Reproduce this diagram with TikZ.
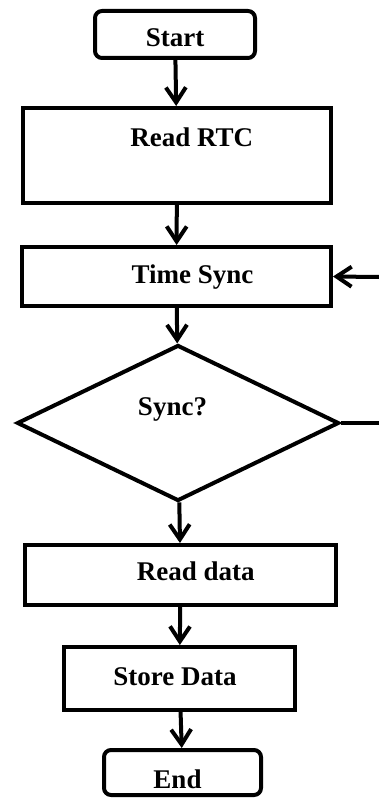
\documentclass[tikz,border=0pt]{standalone}
\usepackage{fontspec}
\setmainfont{Liberation Serif}
\usetikzlibrary{arrows.meta,shapes.geometric}
\tikzset{
  blk/.style={draw, line width=4pt, inner sep=0pt},
  term/.style={blk, rounded corners=7pt},
  dec/.style={blk, diamond},
  lbl/.style={anchor=base, inner sep=0pt, font=\fontsize{27}{31}\selectfont\bfseries},
  flow/.style={line width=4pt, -{Straight Barb[length=15pt,width=20pt]}},
  link/.style={line width=4pt}
}
\begin{document}
\begin{tikzpicture}[x=1pt,y=1pt]
				\useasboundingbox (0,0) rectangle (379,-799);
				
				\node[term, minimum width=160pt, minimum height=47pt] (start) at (175,-34.5) {};
				\node[lbl] (start-t) at (175,-46.5) {Start};
				
				\node[blk, minimum width=308pt, minimum height=95pt] (rtc) at (177,-155.5) {};
				\node[lbl] (rtc-t) at (191.7,-146.7) {Read RTC};
				
				\node[blk, minimum width=309pt, minimum height=59pt] (tsync) at (176.5,-276.5) {};
				\node[lbl] (tsync-t) at (192.5,-283.3) {Time Sync};
				
				\node[dec, minimum width=322pt, minimum height=156pt] (chk) at (178,-423) {};
				\node[lbl] (chk-t) at (172.5,-415) {Sync?};
				
				\node[blk, minimum width=311pt, minimum height=60pt] (rdata) at (180.5,-575) {};
				\node[lbl] (rdata-t) at (195.8,-580) {Read data};
				
				\node[blk, minimum width=231pt, minimum height=63pt] (store) at (179.5,-678.5) {};
				\node[lbl] (store-t) at (175,-685) {Store Data};
				
				\node[term, minimum width=157pt, minimum height=45pt] (stop) at (182.5,-772.5) {};
				\node[lbl] (stop-t) at (177.5,-788.3) {End};
				
				\draw[flow] (start) -- (rtc);
				\draw[flow] (rtc) -- (tsync);
				\draw[flow] (tsync) -- (chk);
				\draw[flow] (chk) -- (rdata);
				\draw[flow] (rdata) -- (store);
				\draw[flow] (store) -- (stop);
				
				% loop back, cut at the right edge
				\coordinate (back-in) at (379,-277);
				\coordinate (back-out) at (379,-423);
				\draw[link] (chk.east) -- (back-out);
				\draw[flow] (back-in) -- (tsync.east);
			\end{tikzpicture}
\end{document}
